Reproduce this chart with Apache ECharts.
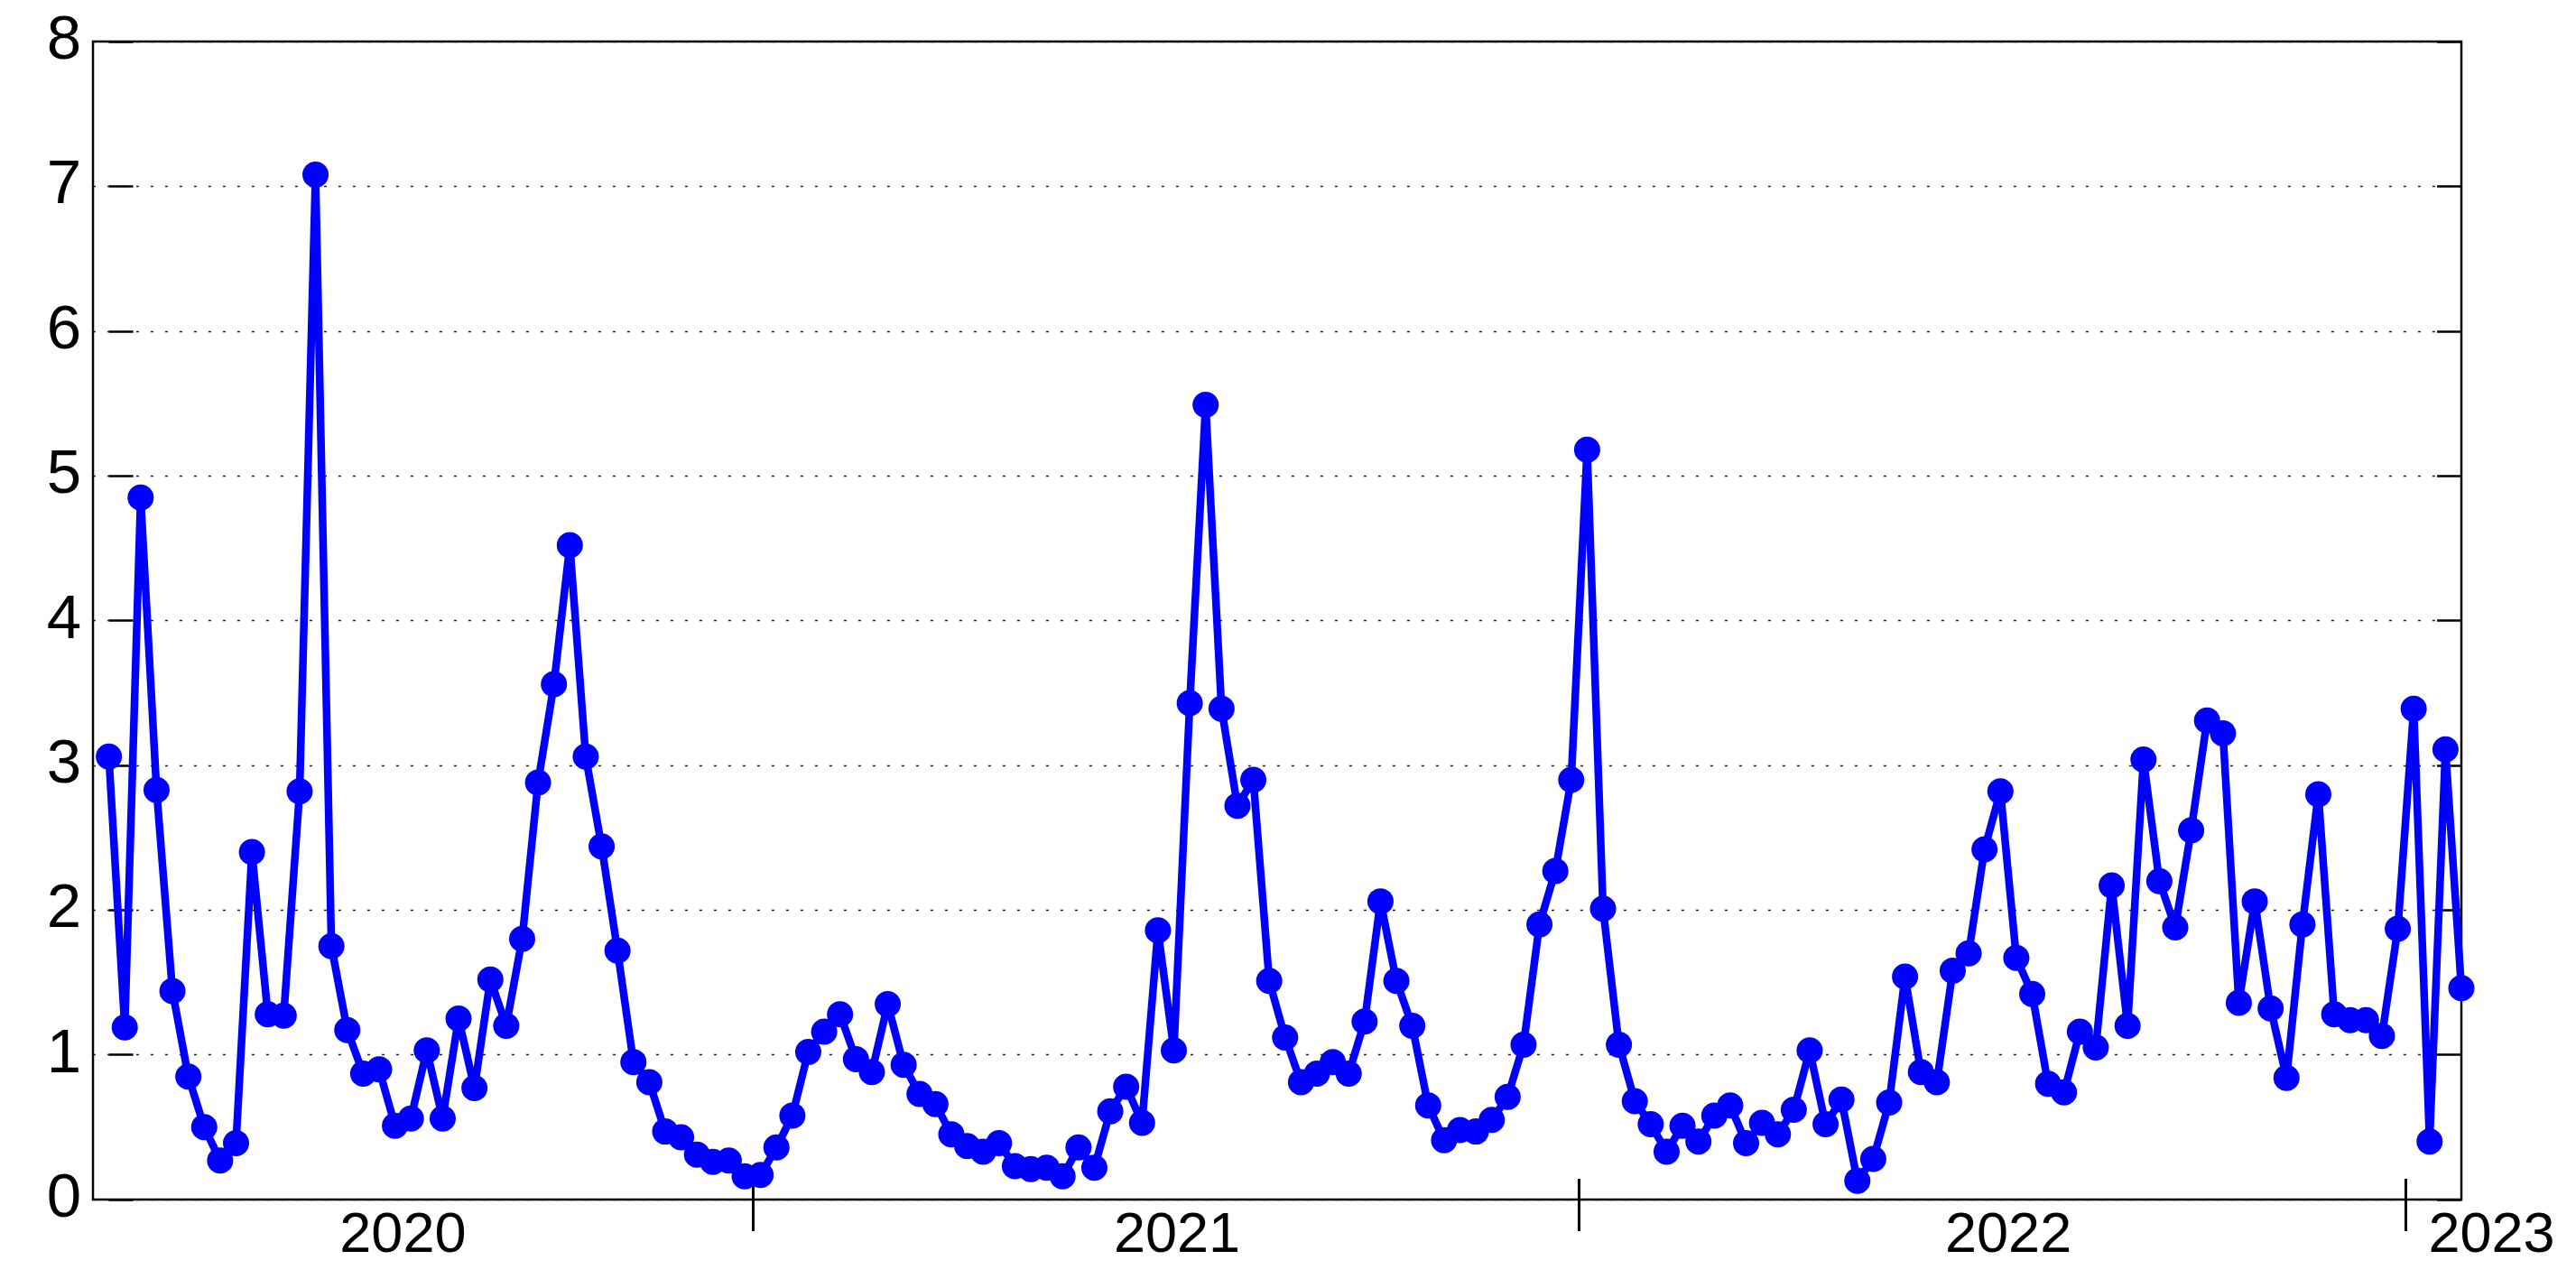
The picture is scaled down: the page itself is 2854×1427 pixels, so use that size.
<!DOCTYPE html>
<html>
<head>
<meta charset="utf-8">
<script src="https://cdn.jsdelivr.net/npm/echarts@6/dist/echarts.min.js"></script>
<style>
html,body{margin:0;padding:0;background:#fff;}
#chart{width:2854px;height:1427px;}
</style>
</head>
<body>
<div id="chart"></div>
<script>
// Weekly values (one per week, in order)
const values = [
  3.06,1.19,4.85,2.83,1.44,0.85,0.50,0.27,0.39,2.40,
  1.28,1.27,2.82,7.08,1.75,1.17,0.87,0.90,0.51,0.56,
  1.03,0.56,1.25,0.77,1.52,1.20,1.80,2.88,3.56,4.52,
  3.06,2.44,1.72,0.95,0.81,0.47,0.43,0.31,0.26,0.27,
  0.16,0.17,0.36,0.58,1.02,1.16,1.28,0.97,0.88,1.35,
  0.93,0.73,0.66,0.45,0.37,0.33,0.39,0.23,0.21,0.22,
  0.16,0.36,0.22,0.61,0.78,0.53,1.86,1.03,3.43,5.49,
  3.39,2.72,2.90,1.51,1.12,0.81,0.87,0.95,0.87,1.23,
  2.06,1.51,1.20,0.65,0.41,0.48,0.47,0.55,0.71,1.07,
  1.90,2.27,2.90,5.18,2.01,1.07,0.68,0.52,0.33,0.51,
  0.40,0.58,0.65,0.39,0.53,0.45,0.62,1.03,0.52,0.69,
  0.13,0.28,0.67,1.54,0.88,0.81,1.58,1.70,2.42,2.82,
  1.67,1.42,0.80,0.74,1.16,1.05,2.17,1.20,3.04,2.20,
  1.88,2.55,3.31,3.22,1.36,2.06,1.32,0.84,1.90,2.80,
  1.28,1.24,1.24,1.13,1.87,3.39,0.40,3.11,1.46
];
// Week index of each value
const weeks = values.map((v, i) => i);
// Year boundaries (in week units) and year label positions
const yearTicks = [40.5, 92.5, 144.5];
const yearLabelPos = [18.5, 67.2, 119.5, 149.9];
const yearLabels = ['2020', '2021', '2022', '2023'];
const yTicks = [0, 1, 2, 3, 4, 5, 6, 7, 8];

const xMin = -1, xMax = 148, xMax2 = 154;
const gLeft = 103, gTop = 46, gW = 2624, gH = 1283;
const FONT = '"Liberation Sans", Arial, Helvetica, sans-serif';

const chart = echarts.init(document.getElementById('chart'), null, {renderer: 'canvas'});
chart.setOption({
  animation: false,
  backgroundColor: '#ffffff',
  grid: [
    {left: gLeft, top: gTop, width: gW, height: gH, show: true, borderColor: '#000', borderWidth: 2.5, backgroundColor: 'transparent', containLabel: false},
    {left: gLeft, top: gTop, width: gW * (xMax2 - xMin) / (xMax - xMin), height: gH, show: false, containLabel: false}
  ],
  xAxis: [
    {
      type: 'value', gridIndex: 0, min: xMin, max: xMax,
      axisLine: {show: false},
      axisTick: {show: true, inside: true, length: 23, customValues: yearTicks, lineStyle: {color: '#000', width: 3}},
      axisLabel: {show: false},
      splitLine: {show: false}
    },
    {
      type: 'value', gridIndex: 1, min: xMin, max: xMax2,
      axisLine: {show: false},
      axisTick: {show: true, inside: false, length: 35, customValues: yearTicks, lineStyle: {color: '#000', width: 3}},
      axisLabel: {
        show: true, customValues: yearLabelPos, margin: 9,
        fontFamily: FONT, fontSize: 63, lineHeight: 63, color: '#000',
        formatter: function (v) {
          let best = 0, d = Infinity;
          yearLabelPos.forEach((p, i) => { if (Math.abs(p - v) < d) { d = Math.abs(p - v); best = i; } });
          return yearLabels[best];
        }
      },
      splitLine: {show: false}
    }
  ],
  yAxis: [
    {
      type: 'value', gridIndex: 0, min: 0, max: 8, interval: 1, position: 'left',
      axisLine: {show: false},
      axisTick: {show: true, inside: true, length: 27, customValues: yTicks, lineStyle: {color: '#000', width: 2.5}},
      axisLabel: {show: true, margin: 13, fontFamily: FONT, fontSize: 69, color: '#000'},
      splitLine: {show: true, lineStyle: {color: '#222', width: 1.3, type: [3, 13]}}
    },
    {
      type: 'value', gridIndex: 0, min: 0, max: 8, interval: 1, position: 'right',
      axisLine: {show: false},
      axisTick: {show: true, inside: true, length: 27, customValues: yTicks, lineStyle: {color: '#000', width: 2.5}},
      axisLabel: {show: false},
      splitLine: {show: false}
    },
    {
      type: 'value', gridIndex: 1, min: 0, max: 8, show: false
    }
  ],
  series: [
    {
      type: 'line',
      xAxisIndex: 0, yAxisIndex: 0,
      data: weeks.map((w, i) => [w, values[i]]),
      symbol: 'circle', symbolSize: 29,
      showAllSymbol: true,
      clip: false,
      lineStyle: {color: '#0000ff', width: 8.5},
      itemStyle: {color: '#0000ff', borderWidth: 0},
      z: 5
    }
  ]
});
</script>
</body>
</html>
